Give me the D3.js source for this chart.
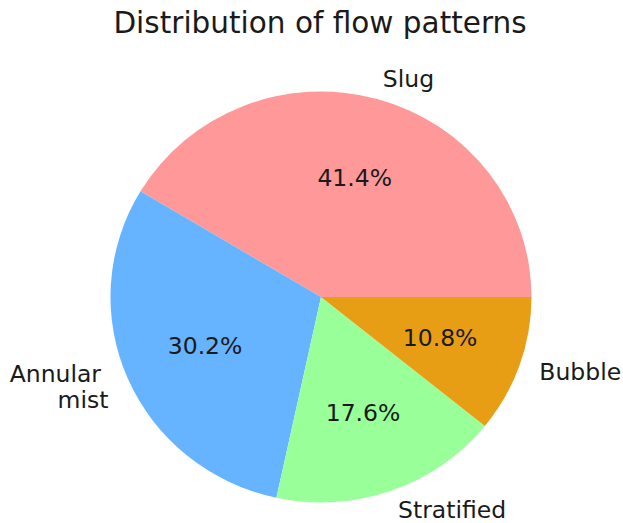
<!DOCTYPE html>
<html lang="en">
<head>
    <script src="https://d3js.org/d3.v7.min.js"></script>
    <title>Distribution of flow patterns</title>
    <style>
        body { margin: 0; background: #fff; }
        text { font-family: "DejaVu Sans", sans-serif; fill: #1a1a1a; }
        tspan { white-space: pre; }
    </style>
</head>
<body>
    <svg width="623" height="523"></svg>
    <script>

        var categories = ["Slug", "Annular \nmist", "Stratified", "Bubble"];
        var shares = [41.4, 30.2, 17.6, 10.8];
        var colors = ["#ff9999", "#66b3ff", "#99ff99", "#e89e14"];

        var svg = d3.select("svg"),
            cx = 321, cy = 297,
            rx = 210.5, ry = 205.5;

        svg.append("text")
            .attr("x", 320)
            .attr("y", 33)
            .attr("text-anchor", "middle")
            .style("font-size", "29.5px")
            .text("Distribution of flow patterns");

        // matplotlib starts at 3 o'clock and goes counter-clockwise
        var pie = d3.pie()
            .sort(null)
            .startAngle(Math.PI / 2)
            .endAngle(Math.PI / 2 - 2 * Math.PI);

        var arcs = pie(shares);
        var arc = d3.arc().innerRadius(0).outerRadius(rx);

        var g = svg.append("g")
            .attr("transform", "translate(" + cx + "," + cy + ") scale(1," + (ry / rx) + ")");

        g.selectAll("path")
            .data(arcs)
            .enter()
            .append("path")
            .attr("d", arc)
            .style("fill", function (d, i) { return colors[i]; });

        function pos(d, k) {
            var a = (d.startAngle + d.endAngle) / 2;   // d3 angle, clockwise from top
            return [cx + k * rx * Math.sin(a), cy - k * ry * Math.cos(a)];
        }

        // percentages
        svg.selectAll(".pct")
            .data(arcs)
            .enter()
            .append("text")
            .attr("class", "pct")
            .attr("x", function (d) { return pos(d, 0.6)[0]; })
            .attr("y", function (d) { return pos(d, 0.6)[1]; })
            .attr("text-anchor", "middle")
            .attr("dominant-baseline", "central")
            .style("font-size", "23.5px")
            .text(function (d) { return d.data.toFixed(1) + "%"; });

        // category labels
        var labels = svg.selectAll(".lbl")
            .data(arcs)
            .enter()
            .append("text")
            .attr("class", "lbl")
            .attr("text-anchor", function (d) { return pos(d, 1)[0] >= cx ? "start" : "end"; })
            .attr("dominant-baseline", "central")
            .style("font-size", "23.5px");

        labels.each(function (d, i) {
            var p = pos(d, 1.1),
                lines = categories[i].split("\n"),
                t = d3.select(this);
            lines.forEach(function (s, j) {
                t.append("tspan")
                    .attr("x", p[0])
                    .attr("y", p[1] + (j - (lines.length - 1) / 2) * 25.5)
                    .text(s);
            });
        });

    </script>
</body>
</html>
